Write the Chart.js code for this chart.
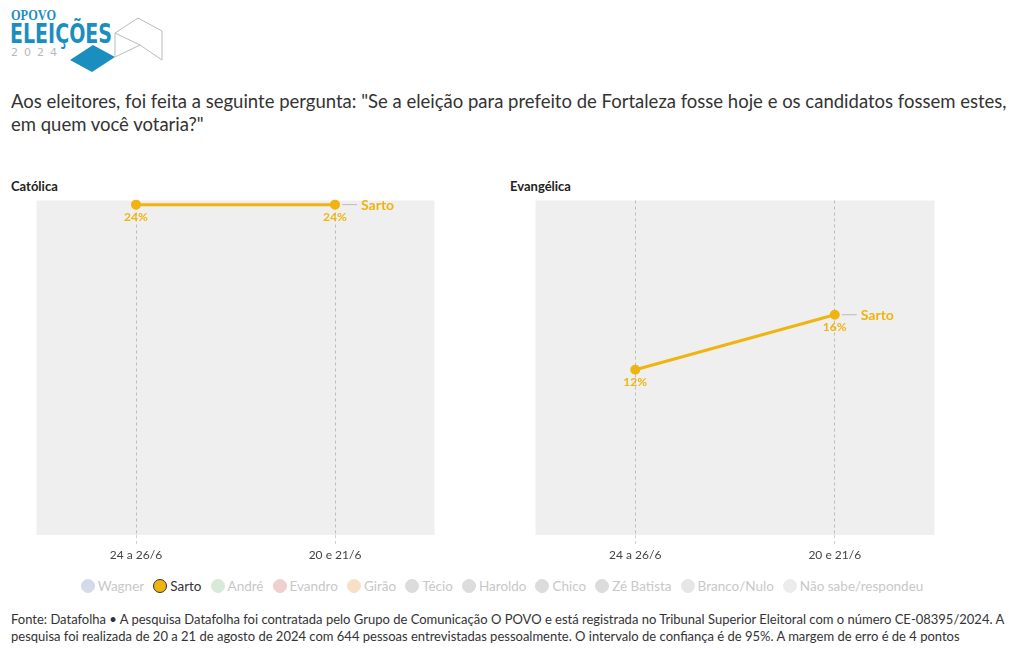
<!DOCTYPE html>
<html>
<head>
<meta charset="utf-8">
<script src="https://cdn.jsdelivr.net/npm/chart.js@4"></script>
<style>
  body { margin: 0; width: 1020px; height: 650px; background: #fff; font-family: Lato, "Noto Sans", sans-serif; color: #333; position: relative; overflow: hidden; }
  .abs { position: absolute; }
  #title { left: 11px; top: 90px; width: 1005px; font-size: 18.5px; line-height: 23px; color: #333; }
  .panel-title { font-size: 13px; font-weight: bold; color: #222; top: 178px; }
  #legend { left: 0; top: 578px; width: 1004px; display: flex; justify-content: center; font-size: 13.5px; }
  .item { display: flex; align-items: center; margin: 0 4.5px; color: #c8c8c8; }
  .item.on { color: #333; }
  .dot { width: 14px; height: 14px; border-radius: 50%; margin-right: 3px; box-sizing: border-box; }
  #footer { left: 11px; top: 611px; width: 1000px; font-size: 13px; line-height: 17px; color: #333; }
</style>
</head>
<body>
<svg class="abs" style="left:0;top:0" width="170" height="80">
  <text x="11" y="20" font-family="Liberation Serif, serif" font-weight="bold" font-size="14.5" fill="#1b8ec0" textLength="45" lengthAdjust="spacingAndGlyphs">OPOVO</text>
  <text x="10" y="43" font-family="DejaVu Sans Condensed, DejaVu Sans, sans-serif" font-weight="bold" font-size="27" fill="#1b8ec0" textLength="102" lengthAdjust="spacingAndGlyphs">ELEIÇÕES</text>
  <text x="11" y="56" font-family="DejaVu Sans, sans-serif" font-size="11" fill="#b8b8b8" letter-spacing="6">2024</text>
  <polygon points="70,60 93,45 115,57 92,72" fill="#1b8ec0"/>
  <polyline points="115,57 115,33 138,18 162,31 162,60 140,45 115,33" fill="none" stroke="#bbb" stroke-width="1"/>
  <line x1="115" y1="57" x2="140" y2="45" stroke="#bbb" stroke-width="1"/>
</svg>

<div id="title" class="abs">Aos eleitores, foi feita a seguinte pergunta: "Se a eleição para prefeito de Fortaleza fosse hoje e os candidatos fossem estes, em quem você votaria?"</div>

<div class="abs panel-title" style="left:11px">Católica</div>
<div class="abs panel-title" style="left:510px">Evangélica</div>

<canvas id="chartCatolica" class="abs" style="left:30px;top:194px" width="411" height="371"></canvas>
<canvas id="chartEvangelica" class="abs" style="left:529px;top:194px" width="412" height="371"></canvas>

<div id="legend" class="abs"></div>

<div id="footer" class="abs">Fonte: Datafolha • A pesquisa Datafolha foi contratada pelo Grupo de Comunicação O POVO e está registrada no Tribunal Superior Eleitoral com o número CE-08395/2024. A pesquisa foi realizada de 20 a 21 de agosto de 2024 com 644 pessoas entrevistadas pessoalmente. O intervalo de confiança é de 95%. A margem de erro é de 4 pontos</div>

<script>
const periods = ['24 a 26/6', '20 e 21/6'];
const catolicaSarto = [24, 24];
const evangelicaSarto = [12, 16];

const candidates = ['Wagner', 'Sarto', 'André', 'Evandro', 'Girão', 'Técio', 'Haroldo', 'Chico', 'Zé Batista', 'Branco/Nulo', 'Não sabe/respondeu'];
const candidateColors = ['#d5dae8', '#efb40f', '#d7ead9', '#f0cfcf', '#f7e1c6', '#dcdcdc', '#dcdcdc', '#dcdcdc', '#dcdcdc', '#e6e6e6', '#ececec'];
const activeCandidate = 'Sarto';

const sartoColor = '#efb40f';
const font = 'Lato, "Noto Sans", sans-serif';

// legenda em html
const legendEl = document.getElementById('legend');
candidates.forEach((name, i) => {
  const item = document.createElement('div');
  item.className = 'item' + (name === activeCandidate ? ' on' : '');
  const dot = document.createElement('span');
  dot.className = 'dot';
  dot.style.background = candidateColors[i];
  dot.style.border = name === activeCandidate ? '1.5px solid #333' : '1px solid ' + candidateColors[i];
  item.appendChild(dot);
  item.appendChild(document.createTextNode(name));
  legendEl.appendChild(item);
});

// fundo cinza da área do gráfico
const areaBackground = {
  id: 'areaBackground',
  beforeDraw(chart) {
    const { ctx, chartArea } = chart;
    ctx.save();
    ctx.fillStyle = '#efefef';
    ctx.fillRect(chartArea.left, chartArea.top, chartArea.right - chartArea.left, chartArea.bottom - chartArea.top);
    ctx.restore();
  }
};

// rótulos de valor e nome no fim da linha
const lineLabels = {
  id: 'lineLabels',
  afterDatasetsDraw(chart) {
    const { ctx } = chart;
    const meta = chart.getDatasetMeta(0);
    const values = chart.data.datasets[0].data;
    ctx.save();
    ctx.fillStyle = sartoColor;
    ctx.font = 'bold 12px ' + font;
    ctx.textAlign = 'center';
    ctx.textBaseline = 'middle';
    meta.data.forEach((pt, i) => {
      ctx.fillText(values[i] + '%', pt.x, pt.y + 12);
    });
    const last = meta.data[meta.data.length - 1];
    ctx.strokeStyle = '#bbb';
    ctx.lineWidth = 1;
    ctx.beginPath();
    ctx.moveTo(last.x + 7, last.y);
    ctx.lineTo(last.x + 22, last.y);
    ctx.stroke();
    ctx.font = 'bold 14px ' + font;
    ctx.textAlign = 'left';
    ctx.fillText(chart.data.datasets[0].label, last.x + 26, last.y + 1);
    ctx.restore();
  }
};

function makeChart(id, values) {
  return new Chart(document.getElementById(id), {
    type: 'line',
    data: {
      labels: periods,
      datasets: [{
        label: 'Sarto',
        data: values,
        borderColor: sartoColor,
        backgroundColor: sartoColor,
        borderWidth: 3,
        pointRadius: 3.5,
        pointHoverRadius: 3.5,
        tension: 0,
        clip: false,
      }],
    },
    options: {
      responsive: false,
      animation: false,
      layout: { padding: 0 },
      plugins: {
        legend: { display: false },
        tooltip: { enabled: false },
      },
      scales: {
        x: {
          offset: true,
          afterFit: scale => { scale.height = 30; },
          grid: { offset: false, color: '#bdbdbd', tickLength: 9, tickBorderDash: [3, 3], tickColor: '#d0d0d0' },
          border: { display: false, dash: [3, 3] },
          ticks: { color: '#444', font: { family: font, size: 12 }, padding: 4 },
        },
        y: { display: false, min: 0, max: 24.3 },
      },
    },
    plugins: [areaBackground, lineLabels],
  });
}

makeChart('chartCatolica', catolicaSarto);
makeChart('chartEvangelica', evangelicaSarto);
</script>
</body>
</html>
